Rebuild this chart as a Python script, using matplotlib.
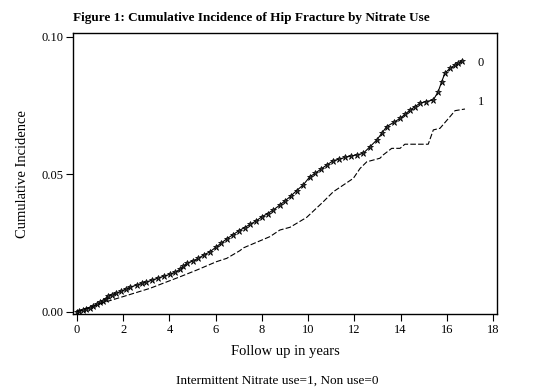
import matplotlib
matplotlib.use('Agg')
import matplotlib.pyplot as plt

plt.rcParams['font.family'] = ['Liberation Serif', 'DejaVu Serif']

# Non use (0) - cumulative incidence
years_0 = [0.00, 0.10, 0.25, 0.40, 0.55, 0.70, 0.85, 1.00, 1.14, 1.25, 1.35, 1.50, 1.70, 1.90,
           2.10, 2.30, 2.58, 2.80, 3.00, 3.25, 3.50, 3.75, 4.02, 4.25, 4.46, 4.60, 4.75, 5.00,
           5.25, 5.50, 5.76, 6.00, 6.25, 6.50, 6.75, 7.00, 7.25, 7.50, 7.75, 8.00, 8.25, 8.50,
           8.78, 9.00, 9.25, 9.50, 9.79, 10.08, 10.30, 10.55, 10.80, 11.09, 11.35, 11.60, 11.85,
           12.10, 12.39, 12.68, 12.97, 13.20, 13.40, 13.70, 13.98, 14.20, 14.41, 14.62, 14.84,
           15.10, 15.42, 15.63, 15.78, 15.92, 16.14, 16.36, 16.50, 16.65]
inc_0 = [0.0000, 0.0003, 0.0006, 0.0010, 0.0015, 0.0020, 0.0027, 0.0034, 0.0040, 0.0048, 0.0057,
         0.0062, 0.0068, 0.0074, 0.0082, 0.0089, 0.0097, 0.0103, 0.0108, 0.0115, 0.0122, 0.0129,
         0.0136, 0.0144, 0.0154, 0.0165, 0.0176, 0.0184, 0.0194, 0.0207, 0.0218, 0.0234, 0.0250,
         0.0266, 0.0280, 0.0294, 0.0306, 0.0318, 0.0330, 0.0345, 0.0357, 0.0370, 0.0388, 0.0403,
         0.0420, 0.0440, 0.0461, 0.0491, 0.0503, 0.0518, 0.0533, 0.0549, 0.0555, 0.0561, 0.0566,
         0.0570, 0.0576, 0.0600, 0.0624, 0.0650, 0.0673, 0.0688, 0.0703, 0.0718, 0.0733, 0.0745,
         0.0758, 0.0764, 0.0770, 0.0800, 0.0836, 0.0867, 0.0885, 0.0897, 0.0903, 0.0913]

# Intermittent nitrate use (1)
years_1 = [0.00, 1.14, 2.00, 3.16, 4.46, 5.20, 6.04, 6.48, 7.05, 7.20, 8.35, 8.78, 9.22, 9.94,
           10.66, 11.09, 11.96, 12.25, 12.54, 13.11, 13.25, 13.62, 13.98, 14.19, 15.20, 15.42,
           15.71, 16.14, 16.36, 16.79]
inc_1 = [0.0000, 0.0033, 0.0055, 0.0085, 0.0127, 0.0152, 0.0182, 0.0194, 0.0222, 0.0232, 0.0273,
         0.0297, 0.0307, 0.0343, 0.0400, 0.0436, 0.0485, 0.0521, 0.0545, 0.0558, 0.0570, 0.0594,
         0.0594, 0.0609, 0.0609, 0.0661, 0.0667, 0.0709, 0.0731, 0.0737]

x_ticks = [0, 2, 4, 6, 8, 10, 12, 14, 16, 18]
y_ticks = [0.00, 0.05, 0.10]

fig = plt.figure(figsize=(5.4, 3.91), dpi=100)
ax = fig.add_axes([0.1357, 0.1969, 0.784, 0.718])

ax.plot(years_0, inc_0, color='black', lw=0.8, marker='*', markersize=5,
        markeredgewidth=0.5, markerfacecolor='#333333')
ax.plot(years_1, inc_1, color='black', lw=0.8, dashes=(5, 2))

ax.text(17.35, 0.0905, '0', fontsize=9, ha='left', va='center')
ax.text(17.35, 0.0763, '1', fontsize=9, ha='left', va='center')

ax.set_xlim(-0.16, 18.16)
ax.set_ylim(-0.00084, 0.10124)
ax.set_xticks(x_ticks)
ax.set_yticks(y_ticks)
ax.set_yticklabels(['0.00', '0.05', '0.10'])
ax.tick_params(direction='out', length=5, width=0.8, labelsize=9, pad=2)
for s in ax.spines.values():
    s.set_linewidth(1.0)

ax.set_xlabel('Follow up in years', fontsize=10.5, labelpad=7)
ax.set_ylabel('Cumulative Incidence', fontsize=10.5, labelpad=9)

fig.text(0.135, 0.955, 'Figure 1: Cumulative Incidence of Hip Fracture by Nitrate Use',
         fontsize=9.5, fontweight='bold', ha='left', va='center')
fig.text(0.513, 0.025, 'Intermittent Nitrate use=1, Non use=0', fontsize=9.5, ha='center', va='center')

fig.savefig('out.png', dpi=100)
